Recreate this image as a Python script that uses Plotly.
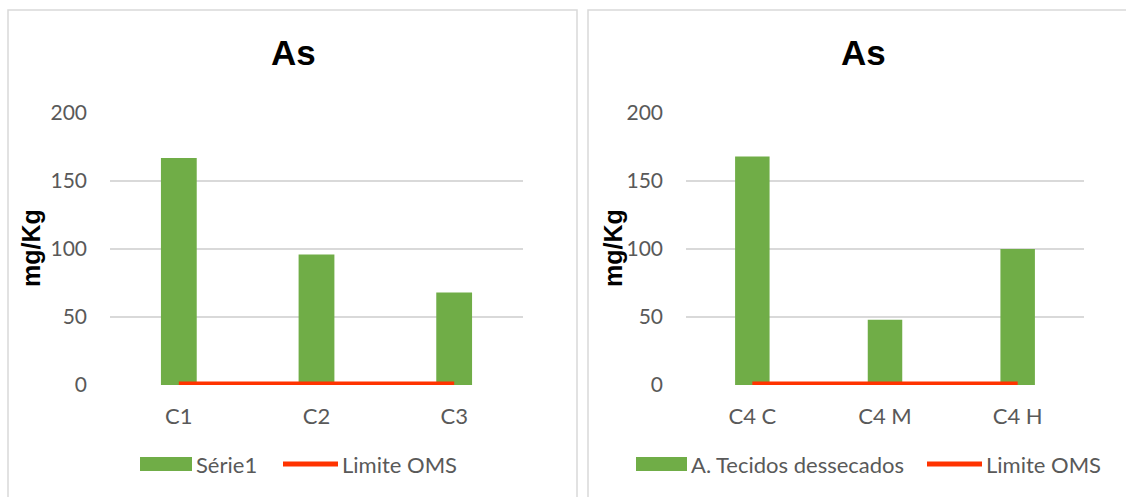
import plotly.graph_objects as go

# ---- data ----
left_categories = ["C1", "C2", "C3"]
left_values = [167, 96, 68]
right_categories = ["C4 C", "C4 M", "C4 H"]
right_values = [168, 48, 100]
oms_limit = 1
y_ticks = [0, 50, 100, 150, 200]

panel_title = "As"
y_title = "mg/Kg"
left_series = "Série1"
right_series = "A. Tecidos dessecados"
limit_name = "Limite OMS"

# ---- styling ----
W, H = 1126, 497
GREEN = "#70AD47"
RED = "#FF3300"
GRID = "#D9D9D9"
TICK = "#595959"
TICK_FONT = dict(family="Lato, Calibri, sans-serif", size=21, color=TICK)
LEGEND_FONT = dict(family="Lato, Calibri, sans-serif", size=22, color=TICK)
BOLD = "Liberation Sans, Arial, sans-serif"


def px(x):
    return x / W


def py(y):
    return 1 - y / H


fig = go.Figure()

for cats, vals, xa, ya in [
    (left_categories, left_values, "x", "y"),
    (right_categories, right_values, "x2", "y2"),
]:
    fig.add_trace(go.Bar(
        x=cats, y=vals, xaxis=xa, yaxis=ya, width=0.26,
        marker=dict(color=GREEN, line=dict(width=0)),
        showlegend=False, hoverinfo="x+y",
    ))
    fig.add_trace(go.Scatter(
        x=cats, y=[oms_limit] * len(cats), xaxis=xa, yaxis=ya,
        mode="lines", line=dict(color=RED, width=4.5),
        showlegend=False, hoverinfo="x+y",
    ))

y_dom = [py(385), py(113)]
common_y = dict(
    range=[0, 200], tickvals=y_ticks, showgrid=True, gridcolor=GRID,
    gridwidth=1.5, zeroline=False, showline=False, ticks="",
    tickfont=TICK_FONT, ticklabelstandoff=22, domain=y_dom,
    fixedrange=True, automargin=False,
)
common_x = dict(
    type="category", range=[-0.5, 2.5], showgrid=False, zeroline=False,
    showline=False, ticks="", tickfont=LEGEND_FONT, ticklabelstandoff=16,
    fixedrange=True, automargin=False,
)

fig.update_layout(
    width=W, height=H,
    margin=dict(l=0, r=0, t=0, b=0, pad=0, autoexpand=False),
    paper_bgcolor="white", plot_bgcolor="white",
    showlegend=False,
    xaxis=dict(common_x, domain=[px(110), px(523)], anchor="y"),
    yaxis=dict(common_y, anchor="x"),
    xaxis2=dict(common_x, domain=[px(686), px(1084)], anchor="y2"),
    yaxis2=dict(common_y, anchor="x2"),
)

shapes = []
annotations = []

# panel frames
for x0, x1 in [(8, 577), (588, 1140)]:
    shapes.append(dict(type="rect", xref="paper", yref="paper",
                       x0=px(x0), x1=px(x1), y0=py(520), y1=py(10),
                       line=dict(color=GRID, width=1.5), fillcolor="rgba(0,0,0,0)"))

# titles and y-axis titles
for cx, ytx in [(293, 31), (863, 613)]:
    annotations.append(dict(text=f"<b>{panel_title}</b>", xref="paper", yref="paper",
                            x=px(cx), y=py(52), xanchor="center", yanchor="middle",
                            showarrow=False, font=dict(family=BOLD, size=35, color="black")))
    annotations.append(dict(text=f"<b>{y_title}</b>", xref="paper", yref="paper",
                            x=px(ytx), y=py(248), xanchor="center", yanchor="middle",
                            textangle=-90, showarrow=False,
                            font=dict(family=BOLD, size=25, color="black")))

# legends
legend_y = 464
for box_x0, box_x1, series_name, line_x0, line_x1 in [
    (140, 192, left_series, 283, 338),
    (636, 687, right_series, 927, 982),
]:
    shapes.append(dict(type="rect", xref="paper", yref="paper",
                       x0=px(box_x0), x1=px(box_x1), y0=py(legend_y + 7), y1=py(legend_y - 7),
                       line=dict(width=0), fillcolor=GREEN))
    annotations.append(dict(text=series_name, xref="paper", yref="paper",
                            x=px(box_x1 + 2), y=py(legend_y), xanchor="left", yanchor="middle",
                            showarrow=False, font=LEGEND_FONT))
    shapes.append(dict(type="line", xref="paper", yref="paper",
                       x0=px(line_x0), x1=px(line_x1), y0=py(legend_y), y1=py(legend_y),
                       line=dict(color=RED, width=5)))
    annotations.append(dict(text=limit_name, xref="paper", yref="paper",
                            x=px(line_x1 + 2), y=py(legend_y), xanchor="left", yanchor="middle",
                            showarrow=False, font=LEGEND_FONT))

fig.update_layout(shapes=shapes, annotations=annotations)

fig.write_html("out.html")
